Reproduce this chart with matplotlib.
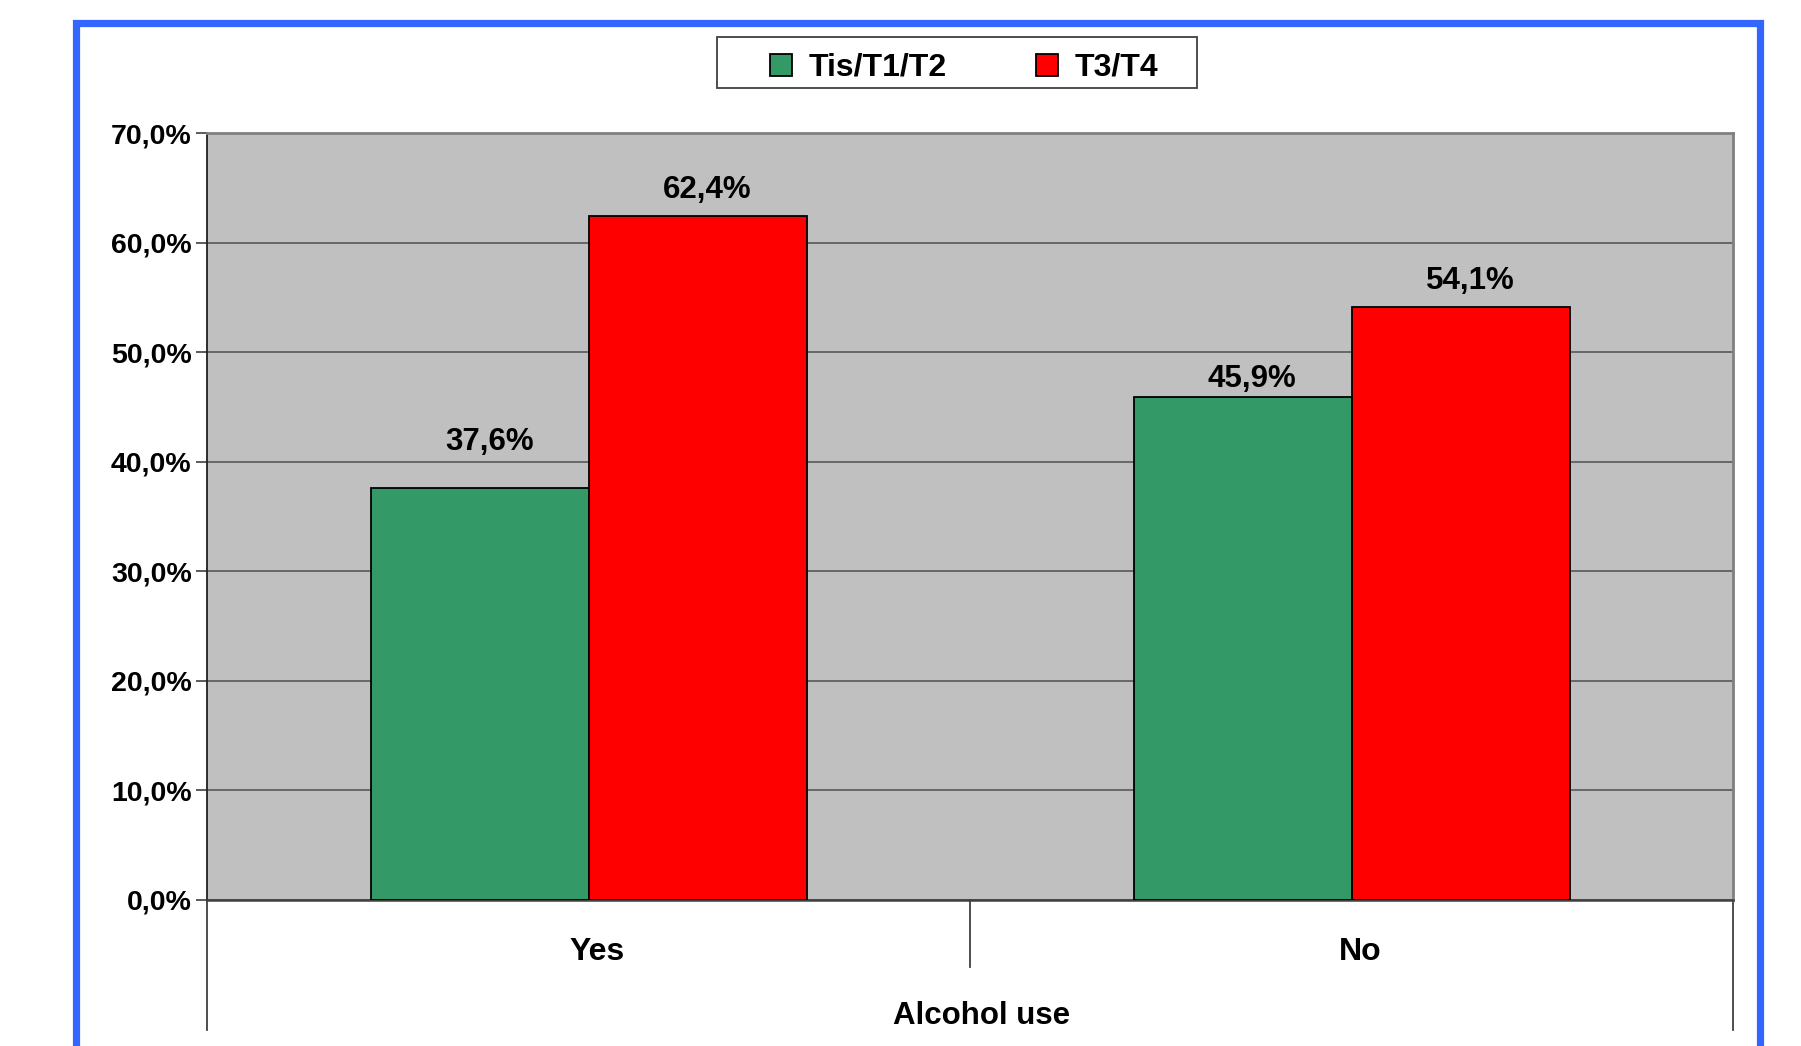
import matplotlib
matplotlib.use("Agg")
from matplotlib import pyplot as plt
from matplotlib.lines import Line2D
from matplotlib.patches import Rectangle
from matplotlib.ticker import FuncFormatter, MultipleLocator
from matplotlib.transforms import ScaledTranslation

categories = ["Yes", "No"]
series_names = ["Tis/T1/T2", "T3/T4"]
early_stage = [37.6, 45.9]
late_stage = [62.4, 54.1]
colors = ["#339966", "#FF0000"]
# label gap above each bar (points), as placed in the original
early_gaps = [33, 13]
late_gaps = [19, 19]

W, H = 1801, 1046
plt.rcParams["font.family"] = ["Liberation Sans", "DejaVu Sans"]
plt.rcParams["font.weight"] = "bold"

fig = plt.figure(figsize=(W / 100, H / 100), dpi=100)

# blue frame around the whole chart (bottom edge cut off in the original)
fig.patches.append(Rectangle((75.5 / W, -0.05), (1759.5 - 75.5) / W, 1.05 - 22.5 / H,
                             transform=fig.transFigure, fill=False,
                             edgecolor="#3366FF", linewidth=5.2))

ax = fig.add_axes([207 / W, 1 - 900 / H, (1733 - 207) / W, (900 - 133) / H])
ax.set_facecolor("#C0C0C0")

# text in the original sits a few pixels right of the true centres
shift = ScaledTranslation(9 / 100, 0, fig.dpi_scale_trans)

x = list(range(len(categories)))
width = 1 / 3.5
for vals, gaps, name, col, off in zip([early_stage, late_stage], [early_gaps, late_gaps],
                                      series_names, colors, [-0.5, 0.5]):
    pos = [i + off * width for i in x]
    bars = ax.bar(pos, vals, width=width, color=col, edgecolor="black",
                  linewidth=1.3, label=name, zorder=3)
    for b, v, g in zip(bars, vals, gaps):
        ax.annotate(f"{v:.1f}%".replace(".", ","),
                    (b.get_x() + b.get_width() / 2, v),
                    xytext=(7, g), textcoords="offset points",
                    ha="center", va="center", fontsize=22.5, fontweight="bold")

ax.set_xlim(-0.5, 1.5)
ax.set_ylim(0, 70)
ax.yaxis.set_major_locator(MultipleLocator(10))
ax.yaxis.set_major_formatter(FuncFormatter(lambda v, p: f"{v:.1f}%".replace(".", ",")))
ax.grid(axis="y", color="#606060", linewidth=1.3, zorder=1)
ax.tick_params(axis="y", length=8, width=1.2, color="#404040", labelsize=20.5, pad=3)

ax.set_xticks(x)
ax.set_xticklabels(categories, fontsize=23, fontweight="bold")
ax.tick_params(axis="x", length=0, pad=27)
for lbl in ax.get_xticklabels():
    lbl.set_transform(lbl.get_transform() + shift)

for side in ["top", "right"]:
    ax.spines[side].set_color("#808080")
    ax.spines[side].set_linewidth(2)
ax.spines["left"].set_color("#202020")
ax.spines["left"].set_linewidth(1.3)
ax.spines["bottom"].set_color("#404040")
ax.spines["bottom"].set_linewidth(1.8)

# category dividers hanging below the axis
axh = 900 - 133
for xf, depth in [(0.0, 130), (0.5, 67), (1.0, 130)]:
    ax.add_line(Line2D([xf, xf], [0, -depth / axh], transform=ax.transAxes,
                       color="#404040", linewidth=1.3, clip_on=False))

ax.text(0.5, -(1016 - 900) / axh, "Alcohol use",
        transform=ax.transAxes + ScaledTranslation(12 / 100, 0, fig.dpi_scale_trans),
        ha="center", va="center", fontsize=22.5, fontweight="bold")

# legend box drawn separately so its padding can match the original
fig.patches.append(Rectangle((717 / W, 1 - 88 / H), (1197 - 717) / W, 51 / H,
                             transform=fig.transFigure, facecolor="white",
                             edgecolor="#404040", linewidth=1.3))
leg = fig.legend(loc="center", bbox_to_anchor=(964 / W, 1 - 68 / H), ncol=2,
                 fontsize=23, frameon=False,
                 handlelength=0.7, handleheight=0.7, columnspacing=2.8,
                 handletextpad=0.5, borderpad=0.2, borderaxespad=0)
for t in leg.get_texts():
    t.set_fontweight("bold")

fig.savefig("out.png", dpi=100, facecolor="white")
